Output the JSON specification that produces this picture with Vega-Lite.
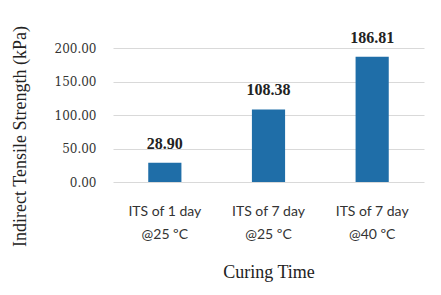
{
  "$schema": "https://vega.github.io/schema/vega-lite/v6.json",
  "width": 311,
  "height": 134,
  "autosize": "none",
  "padding": {"left": 113, "top": 48, "right": 17, "bottom": 113},
  "background": "white",
  "config": {"view": {"stroke": null}},
  "data": {
    "values": [
      {"curing": "ITS of 1 day|@25 ºC", "its": 28.90},
      {"curing": "ITS of 7 day|@25 ºC", "its": 108.38},
      {"curing": "ITS of 7 day|@40 ºC", "its": 186.81}
    ]
  },
  "encoding": {
    "x": {
      "field": "curing",
      "type": "nominal",
      "sort": null,
      "scale": {"paddingInner": 0.68, "paddingOuter": 0.34},
      "axis": {
        "title": "Curing Time",
        "titleFont": "Liberation Serif",
        "titleFontSize": 18,
        "titleFontWeight": "normal",
        "titleColor": "#222",
        "titleX": 155.5,
        "titleY": 90,
        "titleBaseline": "middle",
        "titleAlign": "center",
        "labelExpr": "split(datum.label, '|')",
        "labelAngle": 0,
        "labelFont": "Lato",
        "labelFontSize": 14,
        "labelColor": "#333",
        "labelLineHeight": 23,
        "labelBaseline": "top",
        "labelPadding": 22,
        "ticks": false,
        "domain": false
      }
    },
    "y": {
      "field": "its",
      "type": "quantitative",
      "scale": {"domain": [0, 200]},
      "axis": {
        "title": "Indirect Tensile Strength (kPa)",
        "titleFont": "Liberation Serif",
        "titleFontSize": 18,
        "titleFontWeight": "normal",
        "titleColor": "#222",
        "titleX": -93,
        "titleY": 88,
        "titleAngle": -90,
        "titleBaseline": "middle",
        "titleAlign": "center",
        "values": [0, 50, 100, 150, 200],
        "format": ".2f",
        "labelFont": "DejaVu Serif",
        "labelFontSize": 12,
        "labelColor": "#333",
        "labelPadding": 17,
        "ticks": false,
        "domain": false,
        "grid": true,
        "gridColor": "#d9d9d9",
        "gridWidth": 1
      }
    }
  },
  "layer": [
    {"mark": {"type": "bar", "color": "#1f6ea8"}},
    {
      "mark": {
        "type": "text",
        "font": "Liberation Serif",
        "fontWeight": "bold",
        "fontSize": 16,
        "color": "#222",
        "baseline": "alphabetic",
        "dy": -14
      },
      "encoding": {"text": {"field": "its", "type": "quantitative", "format": ".2f"}}
    }
  ]
}
